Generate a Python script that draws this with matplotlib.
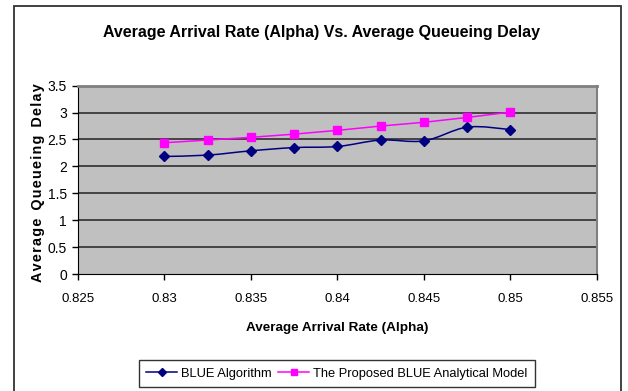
import matplotlib
matplotlib.use('Agg')
import matplotlib.pyplot as plt
from matplotlib.path import Path
from matplotlib.patches import PathPatch, Rectangle
from matplotlib.lines import Line2D

plt.rcParams['font.family'] = ['Liberation Sans', 'DejaVu Sans']

# Данные
alpha = [0.83, 0.8325, 0.835, 0.8375, 0.84, 0.8425, 0.845, 0.8475, 0.85]
blue_delay = [2.185, 2.21, 2.29, 2.35, 2.37, 2.49, 2.475, 2.73, 2.685]
model_delay = [2.44, 2.49, 2.54, 2.60, 2.67, 2.75, 2.82, 2.91, 3.01]

x_ticks = [0.825, 0.83, 0.835, 0.84, 0.845, 0.85, 0.855]
y_ticks = [0, 0.5, 1, 1.5, 2, 2.5, 3, 3.5]

W, H = 628, 391
fig = plt.figure(figsize=(W / 100, H / 100), dpi=100)
fig.patch.set_facecolor('white')

# Рамка вокруг всей диаграммы
fig.patches.append(Rectangle((14 / W, -0.05), (621 - 14) / W, 1 - 6 / H + 0.05,
                             transform=fig.transFigure, fill=False,
                             edgecolor='#333333', linewidth=1.3))

ax = fig.add_axes([78 / W, 1 - 274 / H, (597 - 78) / W, (274 - 85.7) / H])
ax.set_facecolor('#C0C0C0')
ax.set_xlim(0.825, 0.855)
ax.set_ylim(0, 3.5)
ax.set_xticks(x_ticks)
ax.set_xticklabels([f'{v:g}' for v in x_ticks])
ax.set_yticks(y_ticks)
ax.set_yticklabels([f'{v:g}' for v in y_ticks])
ax.tick_params(direction='out', length=4, width=1, labelsize=9.5, colors='black')
ax.tick_params(axis='x', pad=10)
ax.tick_params(axis='y', labelsize=10, pad=4)

for y in y_ticks[1:-1]:
    ax.axhline(y, color='#222222', linewidth=1.1, zorder=1)

ax.spines['top'].set_color('#808080')
ax.spines['top'].set_linewidth(2)
ax.spines['right'].set_color('#808080')
ax.spines['right'].set_linewidth(1.5)
ax.spines['left'].set_color('black')
ax.spines['bottom'].set_color('black')


def smooth_path(xs, ys):
    # Сглаженная линия (Catmull-Rom через кривые Безье)
    pts = list(zip(xs, ys))
    verts = [pts[0]]
    codes = [Path.MOVETO]
    n = len(pts)
    for i in range(n - 1):
        p0 = pts[i - 1] if i > 0 else pts[i]
        p1 = pts[i]
        p2 = pts[i + 1]
        p3 = pts[i + 2] if i + 2 < n else pts[i + 1]
        c1 = (p1[0] + (p2[0] - p0[0]) / 6, p1[1] + (p2[1] - p0[1]) / 6)
        c2 = (p2[0] - (p3[0] - p1[0]) / 6, p2[1] - (p3[1] - p1[1]) / 6)
        verts += [c1, c2, p2]
        codes += [Path.CURVE4] * 3
    return Path(verts, codes)


ax.add_patch(PathPatch(smooth_path(alpha, blue_delay), facecolor='none',
                       edgecolor='#000080', linewidth=1.1, zorder=3))
ax.plot(alpha, blue_delay, linestyle='none', marker='D', markersize=5,
        color='#000080', zorder=4)
ax.plot(alpha, model_delay, color='#FF00FF', linewidth=1.1, marker='s',
        markersize=5.5, zorder=4)

fig.text(321 / W, 1 - 33 / H, 'Average Arrival Rate (Alpha) Vs. Average Queueing Delay',
         ha='center', va='center', fontsize=11.5, fontweight='bold')
fig.text(337 / W, 1 - 328 / H, 'Average Arrival Rate (Alpha)',
         ha='center', va='center', fontsize=9.7, fontweight='bold')

# Подпись оси Y с разрядкой букв
ylabel = '  '.join('\u200a'.join(word) for word in 'Average Queueing Delay'.split())
fig.text(38 / W, 1 - 183 / H, ylabel,
         ha='center', va='center', rotation=90, fontsize=10.4, fontweight='bold')

handles = [
    Line2D([], [], color='#000080', linewidth=1.1, marker='D', markersize=4.5),
    Line2D([], [], color='#FF00FF', linewidth=1.1, marker='s', markersize=4.5),
]
leg = fig.legend(handles, ['BLUE Algorithm', 'The Proposed BLUE Analytical Model'],
                 loc='center', bbox_to_anchor=(337 / W, 1 - 373.5 / H), ncol=2,
                 fontsize=9.3, frameon=True, fancybox=False, handlelength=2.4,
                 handletextpad=0.3, columnspacing=0.5, borderpad=0.6)
leg.get_frame().set_edgecolor('black')
leg.get_frame().set_linewidth(1)

plt.savefig('out.png', dpi=100)
plt.close()
